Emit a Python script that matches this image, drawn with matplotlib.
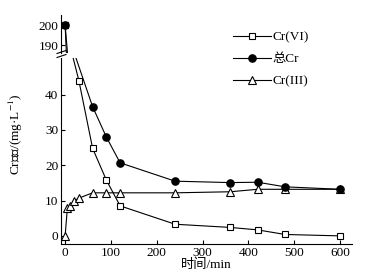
import numpy as np
import matplotlib
matplotlib.use('Agg')
import matplotlib.pyplot as plt
from matplotlib.lines import Line2D

plt.rcParams['font.family'] = ['Liberation Serif', 'Noto Sans CJK SC']
plt.rcParams['font.size'] = 9.5
plt.rcParams['mathtext.fontset'] = 'stix'

# data
t_cr6 = [0, 30, 60, 90, 120, 240, 360, 420, 480, 600]
cr6 = [200, 44, 24.8, 15.8, 8.5, 3.3, 2.4, 1.7, 0.4, 0.0]
t_tot = [0, 60, 90, 120, 240, 360, 420, 480, 600]
tot = [200, 36.6, 28.0, 20.7, 15.5, 15.1, 15.2, 13.9, 13.2]
t_cr3 = [0, 5, 10, 20, 30, 60, 90, 120, 240, 360, 420, 480, 600]
cr3 = [0, 8.0, 8.5, 9.9, 10.7, 12.2, 12.2, 12.2, 12.2, 12.5, 13.2, 13.2, 13.2]

xticks = [0, 100, 200, 300, 400, 500, 600]
yticks_bot = [0, 10, 20, 30, 40]
yticks_top = [190, 200]

lw = 0.8
sty6 = dict(color='black', lw=lw, marker='s', ms=4.6, mfc='white', mec='black', mew=0.8)
styT = dict(color='black', lw=lw, marker='o', ms=5.2, mfc='black', mec='black')
sty3 = dict(color='black', lw=lw, marker='^', ms=5.6, mfc='white', mec='black', mew=0.8)

fig = plt.figure(figsize=(3.85, 2.79), dpi=100)
W, H = 385, 279
x0, x1 = 61, 352
ax_top = fig.add_axes([x0 / W, (H - 53) / H, (x1 - x0) / W, 38 / H])
ax_bot = fig.add_axes([x0 / W, (H - 244) / H, (x1 - x0) / W, 186 / H])

# bottom panel: lines heading to the 200 points as in the original break axis
brk, k = 51.0, 0.0564
fwd = lambda y: np.where(y <= brk, y, brk + (y - brk) * k)
inv = lambda v: np.where(v <= brk, v, brk + (v - brk) / k)
ax_bot.set_yscale('function', functions=(fwd, inv))

for ax in (ax_top, ax_bot):
    ax.plot(t_cr6, cr6, **sty6, zorder=3)
    ax.plot(t_cr3, cr3, **sty3, zorder=3)
    ax.plot(t_tot, tot, **styT, zorder=4)
    ax.set_xlim(-9, 626)
    ax.tick_params(direction='in', length=3, width=0.8, pad=2)
    for s in ax.spines.values():
        s.set_linewidth(0.8)

ax_bot.set_ylim(-2.3, 50.4)
ax_bot.set_yticks(yticks_bot)
ax_bot.set_xticks(xticks)
ax_bot.spines['top'].set_visible(False)
ax_bot.spines['right'].set_visible(False)

ax_top.set_ylim(186, 205)
ax_top.set_yticks(yticks_top)
ax_top.set_xticks([])
for s in ('top', 'right', 'bottom'):
    ax_top.spines[s].set_visible(False)

# break marks
d = dict(color='black', lw=0.8, clip_on=False, transform=fig.transFigure)
for yy in (52, 56):
    fig.add_artist(Line2D([57 / W, 66 / W], [(H - yy - 1.5) / H, (H - yy + 1.5) / H], **d))

ax_bot.set_xlabel('时间/min', labelpad=0)
ax_bot.set_ylabel('Cr浓度/(mg·L$^{-1}$)', labelpad=8)
ax_bot.yaxis.set_label_coords(-0.125, 0.59)

handles = [Line2D([], [], **sty6), Line2D([], [], **styT), Line2D([], [], **sty3)]
fig.legend(handles, ['Cr(VI)', '总Cr', 'Cr(III)'], loc='upper left',
           bbox_to_anchor=(233 / W, 1 - 31 / H), frameon=False, handlelength=2.9,
           handletextpad=0.1, labelspacing=0.75, borderaxespad=0, borderpad=0)

fig.savefig('out.png', dpi=100)
